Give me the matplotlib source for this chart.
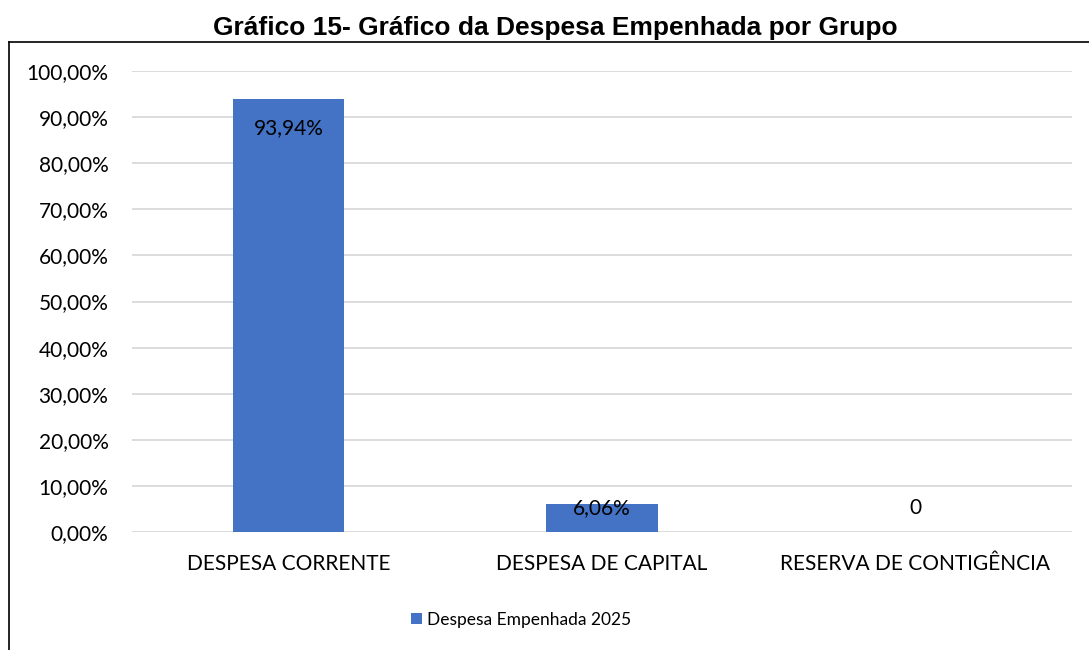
import matplotlib
matplotlib.use("Agg")
import matplotlib.pyplot as plt
from matplotlib.ticker import FuncFormatter, MultipleLocator
from matplotlib.lines import Line2D

# despesa empenhada por grupo (fracao do total)
grupos = ["DESPESA CORRENTE", "DESPESA DE CAPITAL", "RESERVA DE CONTIGÊNCIA"]
valores = [0.9394, 0.0606, 0.0]
rotulos = ["93,94%", "6,06%", "0"]
serie = "Despesa Empenhada 2025"

azul = "#4472C4"
cinza = "#D9D9D9"

plt.rcParams["font.family"] = ["Lato", "DejaVu Sans"]

fig = plt.figure(figsize=(10.89, 6.5), dpi=100)
ax = fig.add_axes([0.1212, 0.1815, 0.8632, 0.7093])

x = list(range(len(grupos)))
bars = ax.bar(x, valores, width=0.355, color=azul, label=serie, zorder=2)

ax.set_xlim(-0.5, 2.5)
ax.set_ylim(0, 1.0)
ax.yaxis.set_major_locator(MultipleLocator(0.1))
ax.yaxis.set_major_formatter(FuncFormatter(lambda v, p: f"{v*100:.2f}%".replace(".", ",")))
ax.grid(axis="y", color=cinza, linewidth=1.3, zorder=0)
ax.set_axisbelow(True)
for s in ax.spines.values():
    s.set_visible(False)
ax.tick_params(axis="both", length=0, labelsize=15, colors="black")
ax.tick_params(axis="y", pad=17)
ax.tick_params(axis="x", pad=16)
ax.set_xticks(x)
ax.set_xticklabels(grupos)

# rotulos de dados: dentro da barra quando cabe, senao perto do topo
for xi, v, txt in zip(x, valores, rotulos):
    if v > 0.2:
        dy = -21
    elif v > 0:
        dy = -3
    else:
        dy = 17
    ax.annotate(txt, (xi, v), xytext=(0, dy), textcoords="offset points",
                ha="center", va="center", fontsize=15, color="black")

fig.text(0.51, 1 - 28 / 650, "Gráfico 15- Gráfico da Despesa Empenhada por Grupo",
         ha="center", va="center", fontsize=19, fontweight="bold",
         family=["Liberation Sans", "DejaVu Sans"])

fig.legend(handles=[bars], loc="center", bbox_to_anchor=(521 / 1089, 1 - 620 / 650),
           frameon=False, fontsize=12.5, handlelength=0.6, handleheight=0.6,
           handletextpad=0.3)

# moldura do grafico (continua alem da borda da imagem)
fx0, fy0 = 8.5 / 1089, 1 - 41.5 / 650
fig.add_artist(Line2D([fx0, 1.0], [fy0, fy0], transform=fig.transFigure, color="black", linewidth=1.2))
fig.add_artist(Line2D([fx0, fx0], [0.0, fy0], transform=fig.transFigure, color="black", linewidth=1.2))

fig.savefig("out.png", dpi=100)
